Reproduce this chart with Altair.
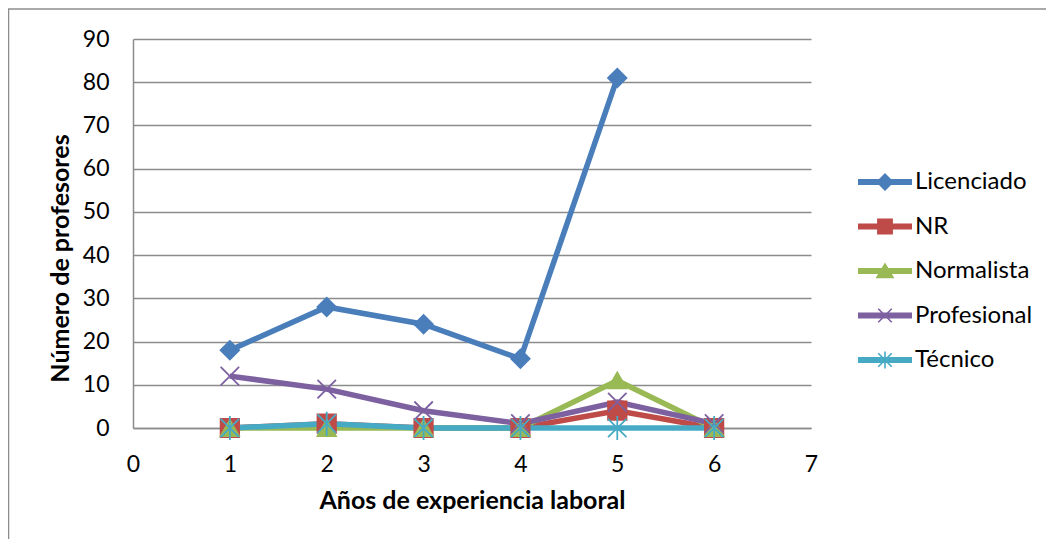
import altair as alt
import pandas as pd

years = [1, 2, 3, 4, 5, 6]
series_names = ["Licenciado", "NR", "Normalista", "Profesional", "Técnico"]
licenciado = [18, 28, 24, 16, 81, None]
nr = [0, 1, 0, 0, 4, 0]
normalista = [0, 0, 0, 0, 11, 0]
profesional = [12, 9, 4, 1, 6, 1]
tecnico = [0, 1, 0, 0, 0, 0]
x_ticks = [0, 1, 2, 3, 4, 5, 6, 7]
y_ticks = [0, 10, 20, 30, 40, 50, 60, 70, 80, 90]

colors = ["#4A7EBB", "#BE4B48", "#98B954", "#7D60A0", "#46AAC5"]

# marker shapes on the data points
shapes = ["diamond", "square", "triangle-up",
          "M-1,-1L1,1M-1,1L1,-1",
          "M-1,-1L1,1M-1,1L1,-1M0,-1.3L0,1.3"]

# legend glyphs: a thick line segment with the marker on top (all filled)
SEG = "M-3,-0.32H3V0.32H-3Z"
XBARS = ("M-0.686,-0.814L0.814,0.686L0.686,0.814L-0.814,-0.686Z"
         "M-0.814,0.686L0.686,-0.814L0.814,-0.686L-0.686,0.814Z")
legend_shapes = [
    SEG + "M0,-1L1,0L0,1L-1,0Z",
    SEG + "M-0.88,-0.88H0.88V0.88H-0.88Z",
    SEG + "M0,-0.95L1.05,0.8L-1.05,0.8Z",
    SEG + XBARS,
    SEG + XBARS + "M-0.09,-0.95H0.09V0.95H-0.09Z",
]

rows = []
for name, vals in zip(series_names, [licenciado, nr, normalista, profesional, tecnico]):
    for xv, v in zip(years, vals):
        if v is not None:
            rows.append({"serie": name, "anio": xv, "valor": v})
df = pd.DataFrame(rows)

FONT = "Lato"
GRAY = "#8c8c8c"

x_enc = alt.X("anio:Q", scale=alt.Scale(domain=[0, 7], nice=False),
              axis=alt.Axis(values=x_ticks, title="Años de experiencia laboral", grid=False,
                            ticks=False, tickSize=0, labelPadding=25, titleY=72,
                            titleBaseline="middle", labelFlush=False))
y_enc = alt.Y("valor:Q", scale=alt.Scale(domain=[0, 90], nice=False),
              axis=alt.Axis(values=y_ticks, title="Número de profesores", grid=True,
                            ticks=False, tickSize=0, labelPadding=24, titleX=-73, titleY=219,
                            titleBaseline="middle", titleAngle=-90))

base = alt.Chart(df)

lines = base.mark_line(strokeWidth=5.5).encode(
    x=x_enc, y=y_enc,
    color=alt.Color("serie:N", scale=alt.Scale(domain=series_names, range=colors), legend=None),
)

points = base.mark_point(filled=True, size=340, opacity=1, strokeWidth=1.8).encode(
    x=x_enc, y=y_enc,
    color=alt.Color("serie:N", scale=alt.Scale(domain=series_names, range=colors), legend=None),
    stroke=alt.Stroke("serie:N", scale=alt.Scale(domain=series_names, range=colors), legend=None),
    shape=alt.Shape("serie:N", scale=alt.Scale(domain=series_names, range=shapes), legend=None),
)

leg = alt.Legend(title=None, orient="none", legendX=740, legendY=131, padding=0,
                 symbolSize=324, symbolStrokeWidth=0.5,
                 labelFont=FONT, labelFontSize=24, labelColor="black", labelOffset=18,
                 rowPadding=20.5)

legend_layer = base.transform_filter("false").mark_point(
    filled=True, size=324, opacity=1, strokeWidth=0.5
).encode(
    x=x_enc, y=y_enc,
    color=alt.Color("serie:N", scale=alt.Scale(domain=series_names, range=colors), legend=leg),
    shape=alt.Shape("serie:N", scale=alt.Scale(domain=series_names, range=legend_shapes), legend=leg),
)

frame_df = pd.DataFrame({"k": [0]})
top_rule = alt.Chart(frame_df).mark_rule(color=GRAY, strokeWidth=1.5).encode(
    x=alt.value(-125), x2=alt.value(921), y=alt.value(-30))
left_rule = alt.Chart(frame_df).mark_rule(color=GRAY, strokeWidth=1.5).encode(
    x=alt.value(-124.5), y=alt.value(-30), y2=alt.value(510))

chart = alt.layer(top_rule, left_rule, lines, points, legend_layer).resolve_scale(
    color="independent", stroke="independent", shape="independent"
).properties(
    width=678, height=389,
    padding={"left": 125, "top": 31, "right": 235, "bottom": 111},
    autosize=alt.AutoSizeParams(type="none"),
).configure_view(stroke=None).configure_axis(
    domainColor=GRAY, domainWidth=1.5, gridColor=GRAY, gridWidth=1.5,
    labelFont=FONT, labelFontSize=23, labelColor="black",
    titleFont=FONT, titleFontSize=25, titleFontWeight="bold", titleColor="black",
)

chart.save("out.html", embed_options={"renderer": "svg", "actions": False})
